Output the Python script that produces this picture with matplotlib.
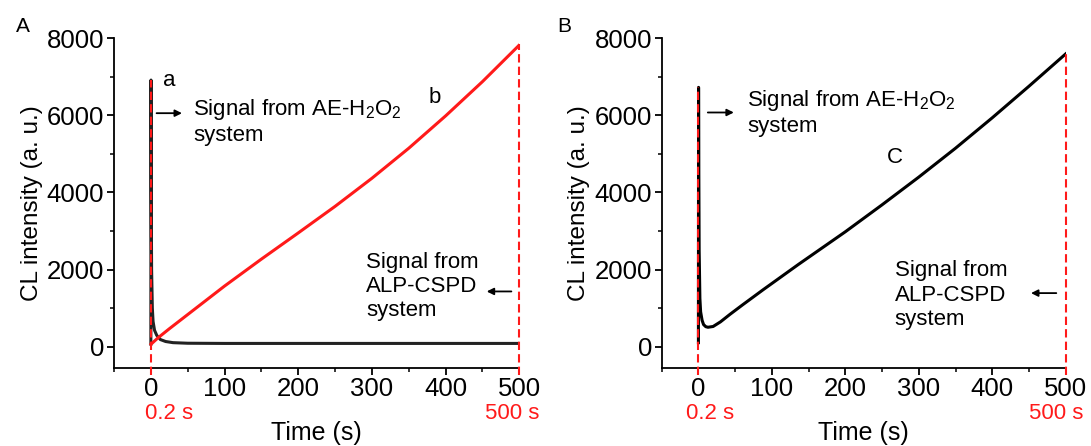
import numpy as np
import matplotlib
matplotlib.use('Agg')
import matplotlib.pyplot as plt
from matplotlib.ticker import MultipleLocator

plt.rcParams['font.family'] = ['Liberation Sans', 'DejaVu Sans']
plt.rcParams['mathtext.fontset'] = 'custom'
plt.rcParams['mathtext.rm'] = 'Liberation Sans'
plt.rcParams['mathtext.default'] = 'regular'

# panel A, curve a (AE-H2O2 flash, black)
t_a = [0, 0.2, 0.5, 1, 2, 3, 5, 8, 13, 20, 30, 50, 100, 200, 300, 400, 500]
y_a = [60, 6920, 4000, 2000, 1000, 650, 420, 290, 180, 130, 100, 85, 80, 80, 80, 80, 80]

# panel A, curve b (ALP-CSPD glow, red)
t_b = [0.2, 10, 25, 50, 75, 100, 150, 200, 250, 300, 350, 400, 450, 500]
y_b = [60, 230, 460, 830, 1200, 1570, 2270, 2950, 3640, 4370, 5150, 5990, 6880, 7830]

# panel B, curve c (both systems, black)
t_c = [0, 0.2, 0.5, 1, 2, 3, 5, 7, 10, 13, 20, 30, 43, 60, 88, 136, 200,
       250, 300, 350, 400, 450, 500]
y_c = [100, 6730, 4500, 2500, 1250, 900, 680, 570, 515, 500, 520, 640, 836,
       1080, 1473, 2130, 2980, 3680, 4400, 5150, 5940, 6760, 7600]

x_ticks = [0, 100, 200, 300, 400, 500]
y_ticks = [0, 2000, 4000, 6000, 8000]

fig = plt.figure(figsize=(10.91, 4.46), dpi=100)
axA = fig.add_axes([0.1045, 0.1756, 0.3715, 0.7381])
axB = fig.add_axes([0.6065, 0.1756, 0.3703, 0.7381])

def style(ax):
    ax.set_xlim(-50, 500)
    ax.set_ylim(-550, 8000)
    ax.set_xticks(x_ticks)
    ax.set_yticks(y_ticks)
    ax.xaxis.set_minor_locator(MultipleLocator(50))
    ax.yaxis.set_minor_locator(MultipleLocator(1000))
    for s in ['top', 'right']:
        ax.spines[s].set_visible(False)
    for s in ['left', 'bottom']:
        ax.spines[s].set_linewidth(1.3)
    ax.tick_params(which='major', direction='out', length=5, width=1.3,
                   labelsize=18.5, pad=2)
    ax.tick_params(which='minor', direction='out', length=3, width=1.1)
    ax.set_xlabel('Time (s)', fontsize=18, labelpad=14)
    ax.set_ylabel('CL intensity (a. u.)', fontsize=17.5, labelpad=3)

def red_marks(ax, top0, top500):
    ax.plot([0, 0], [-735, top0], color='#ff1a1a', ls=(0, (4, 2)), lw=1.5,
            clip_on=False, zorder=5)
    ax.plot([500, 500], [-735, top500], color='#ff1a1a', ls=(0, (4, 2)), lw=1.5,
            clip_on=False, zorder=5)

arrow = dict(arrowstyle='-|>', color='black', lw=1.3, mutation_scale=10)

# panel A
style(axA)
axA.plot(t_a, y_a, color='#222222', lw=2.2, zorder=3)
axA.plot(t_b, y_b, color='#ff1a1a', lw=2.2, zorder=4)
red_marks(axA, 6925, 7862)
axA.text(16, 6770, 'a', fontsize=16)
axA.text(377, 6320, 'b', fontsize=16)
axA.text(57, 5350, 'Signal from AE-H$_2$O$_2$\nsystem', fontsize=16,
         va='baseline', linespacing=1.15)
axA.annotate('', xy=(46, 6060), xytext=(4, 6060), arrowprops=arrow)
axA.text(292, 780, 'Signal from\nALP-CSPD\nsystem', fontsize=16,
         va='baseline', linespacing=1.2)
axA.annotate('', xy=(452, 1430), xytext=(493, 1430), arrowprops=arrow)
axA.text(-8, -1870, '0.2 s', color='#ff1a1a', fontsize=16, clip_on=False)
axA.text(527, -1870, '500 s', color='#ff1a1a', fontsize=16, ha='right',
         clip_on=False)

# panel B
style(axB)
axB.plot(t_c, y_c, color='black', lw=2.2, zorder=3)
red_marks(axB, 6734, 7680)
axB.text(66, 5584, 'Signal from AE-H$_2$O$_2$\nsystem', fontsize=16,
         va='baseline', linespacing=1.15)
axB.annotate('', xy=(52, 6078), xytext=(9, 6078), arrowprops=arrow)
axB.text(257, 4763, 'C', fontsize=16)
axB.text(267, 564, 'Signal from\nALP-CSPD\nsystem', fontsize=16,
         va='baseline', linespacing=1.2)
axB.annotate('', xy=(449, 1387), xytext=(491, 1387), arrowprops=arrow)
axB.text(-17, -1870, '0.2 s', color='#ff1a1a', fontsize=16, clip_on=False)
axB.text(524, -1870, '500 s', color='#ff1a1a', fontsize=16, ha='right',
         clip_on=False)

fig.text(16 / 1091, 1 - 32 / 446, 'A', fontsize=15)
fig.text(557 / 1091, 1 - 32 / 446, 'B', fontsize=15)

fig.savefig('out.png', dpi=100)
